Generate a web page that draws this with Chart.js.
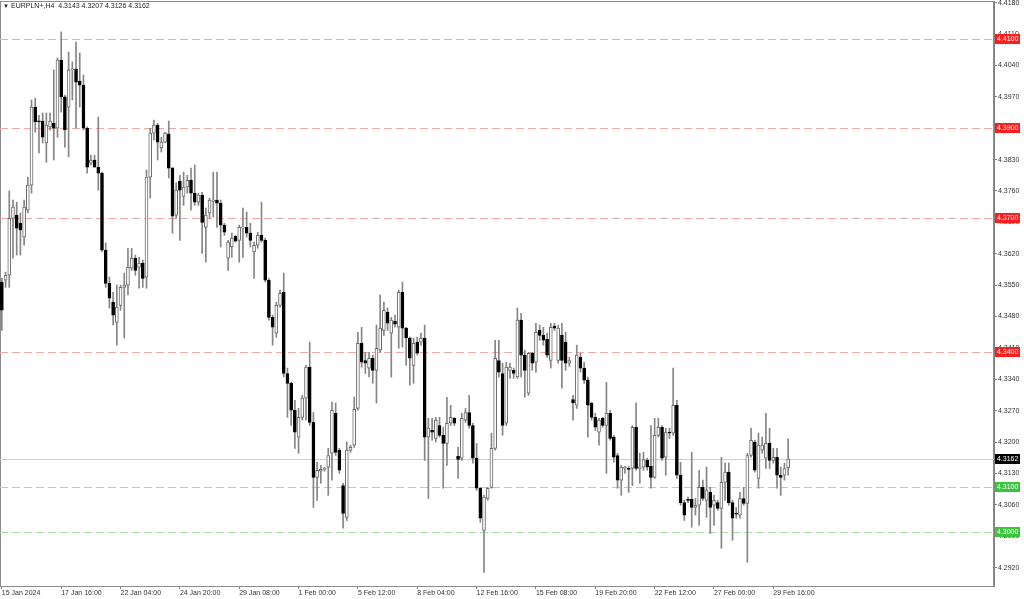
<!DOCTYPE html>
<html>
<head>
<meta charset="utf-8">
<script src="https://cdn.jsdelivr.net/npm/chart.js@4.4.1/dist/chart.umd.min.js"></script>
<style>
  html, body { margin: 0; padding: 0; background: #fff; }
  #wrap { position: relative; width: 1024px; height: 599px; }
</style>
</head>
<body>
<div id="wrap"><canvas id="chart"></canvas></div>
<script>
// EURPLN+ H4 candles (oldest first)
const opens = [
  4.3557,4.3561,4.3572,4.3699,4.3706,4.3688,4.3657,4.3717,4.3773,4.3947,
  4.3916,4.3916,4.3867,4.3903,4.3911,4.3900,4.4052,4.3970,4.3947,4.4030,
  4.4032,4.4005,4.3996,4.3900,4.3822,4.3829,4.3813,4.3800,4.3628,4.3554,
  4.3512,4.3467,4.3505,4.3545,4.3550,4.3588,4.3610,4.3590,4.3599,4.3568,
  4.3791,4.3889,4.3907,4.3856,4.3869,4.3887,4.3811,4.3706,4.3782,4.3748,
  4.3769,4.3784,4.3755,4.3735,4.3751,4.3679,4.3711,4.3737,4.3740,4.3733,
  4.3684,4.3610,4.3635,4.3659,4.3650,4.3677,4.3679,4.3666,4.3624,4.3639,
  4.3661,4.3650,4.3561,4.3478,4.3443,4.3505,4.3534,4.3353,4.3331,4.3271,
  4.3211,4.3255,4.3298,4.3367,4.3244,4.3121,4.3135,4.3139,4.3144,4.3175,
  4.3264,4.3182,4.3103,4.3032,4.3182,4.3193,4.3275,4.3420,4.3382,4.3365,
  4.3387,4.3360,4.3405,4.3449,4.3490,4.3443,4.3470,4.3456,4.3534,4.3454,
  4.3432,4.3371,4.3423,4.3423,4.3432,4.3211,4.3226,4.3208,4.3237,4.3215,
  4.3197,4.3242,4.3253,4.3168,4.3164,4.3249,4.3266,4.3237,4.3164,4.3097,
  4.3003,4.3074,4.3099,4.3186,4.3382,4.3353,4.3242,4.3360,4.3360,4.3345,
  4.3472,4.3394,4.3309,4.3398,4.3378,4.3449,4.3438,4.3429,4.3382,4.3458,
  4.3382,4.3438,4.3423,4.3376,4.3295,4.3282,4.3389,4.3365,4.3338,4.3287,
  4.3255,4.3222,4.3253,4.3237,4.3264,4.3211,4.3170,4.3115,4.3141,4.3141,
  4.3141,4.3233,4.3141,4.3144,4.3159,4.3146,4.3121,4.3215,4.3233,4.3166,
  4.3222,4.3220,4.3282,4.3126,4.3065,4.3072,4.3072,4.3054,4.3059,4.3099,
  4.3070,4.3088,4.3059,4.3065,4.3052,4.3110,4.3133,4.3065,4.3041,4.3037,
  4.3074,4.3063,4.3170,4.3200,4.3119,4.3182,4.3164,4.3197,4.3159,4.3166,
  4.3126,4.3126,4.3143
];
const highs = [
  4.3565,4.3579,4.3760,4.3740,4.3735,4.3711,4.3740,4.3791,4.3963,4.3967,
  4.3929,4.3934,4.3934,4.3934,4.4030,4.4057,4.4115,4.3974,4.4070,4.4048,
  4.4092,4.4068,4.4019,4.3903,4.3840,4.3840,4.3925,4.3802,4.3644,4.3568,
  4.3534,4.3550,4.3550,4.3577,4.3632,4.3632,4.3617,4.3612,4.3606,4.3807,
  4.3900,4.3918,4.3911,4.3880,4.3891,4.3916,4.3813,4.3778,4.3795,4.3802,
  4.3795,4.3811,4.3818,4.3755,4.3757,4.3722,4.3744,4.3802,4.3802,4.3740,
  4.3688,4.3650,4.3666,4.3661,4.3684,4.3722,4.3713,4.3688,4.3646,4.3668,
  4.3735,4.3655,4.3565,4.3483,4.3512,4.3539,4.3577,4.3365,4.3333,4.3293,
  4.3275,4.3304,4.3371,4.3423,4.3266,4.3155,4.3148,4.3144,4.3186,4.3289,
  4.3287,4.3186,4.3108,4.3200,4.3193,4.3300,4.3445,4.3456,4.3400,4.3400,
  4.3394,4.3461,4.3528,4.3512,4.3499,4.3478,4.3483,4.3539,4.3557,4.3456,
  4.3434,4.3432,4.3434,4.3443,4.3461,4.3253,4.3253,4.3255,4.3255,4.3233,
  4.3300,4.3282,4.3255,4.3188,4.3264,4.3275,4.3304,4.3242,4.3197,4.3099,
  4.3081,4.3099,4.3220,4.3427,4.3427,4.3376,4.3378,4.3376,4.3365,4.3499,
  4.3487,4.3405,4.3400,4.3400,4.3465,4.3461,4.3456,4.3443,4.3465,4.3465,
  4.3461,4.3465,4.3445,4.3389,4.3304,4.3416,4.3398,4.3378,4.3345,4.3289,
  4.3264,4.3253,4.3255,4.3333,4.3271,4.3215,4.3175,4.3148,4.3146,4.3146,
  4.3237,4.3287,4.3175,4.3177,4.3164,4.3237,4.3253,4.3253,4.3237,4.3231,
  4.3231,4.3365,4.3293,4.3155,4.3070,4.3077,4.3177,4.3074,4.3137,4.3115,
  4.3144,4.3099,4.3081,4.3070,4.3166,4.3153,4.3153,4.3070,4.3054,4.3088,
  4.3099,4.3175,4.3231,4.3204,4.3220,4.3211,4.3264,4.3231,4.3186,4.3186,
  4.3144,4.3153,4.3207
];
const lows = [
  4.3449,4.3545,4.3545,4.3610,4.3617,4.3617,4.3639,4.3711,4.3755,4.3891,
  4.3845,4.3867,4.3824,4.3896,4.3829,4.3880,4.3936,4.3858,4.3836,4.3963,
  4.3900,4.3947,4.3896,4.3800,4.3818,4.3813,4.3762,4.3624,4.3545,4.3499,
  4.3461,4.3416,4.3494,4.3432,4.3528,4.3583,4.3572,4.3543,4.3545,4.3543,
  4.3744,4.3874,4.3829,4.3847,4.3867,4.3789,4.3666,4.3699,4.3650,4.3728,
  4.3755,4.3717,4.3728,4.3728,4.3621,4.3601,4.3699,4.3702,4.3679,4.3635,
  4.3661,4.3583,4.3612,4.3646,4.3601,4.3612,4.3657,4.3635,4.3565,4.3632,
  4.3646,4.3557,4.3472,4.3416,4.3434,4.3501,4.3345,4.3255,4.3237,4.3186,
  4.3175,4.3249,4.3249,4.3237,4.3054,4.3070,4.3108,4.3135,4.3081,4.3115,
  4.3170,4.3130,4.3008,4.3025,4.3177,4.3188,4.3271,4.3367,4.3353,4.3345,
  4.3331,4.3287,4.3400,4.3438,4.3449,4.3345,4.3456,4.3409,4.3412,4.3371,
  4.3327,4.3331,4.3394,4.3416,4.3159,4.3074,4.3204,4.3200,4.3211,4.3097,
  4.3148,4.3237,4.3237,4.3119,4.3159,4.3244,4.3231,4.3153,4.3092,4.3021,
  4.2909,4.3070,4.3097,4.3182,4.3345,4.3215,4.3237,4.3342,4.3342,4.3342,
  4.3345,4.3300,4.3304,4.3360,4.3356,4.3427,4.3416,4.3389,4.3365,4.3449,
  4.3376,4.3320,4.3360,4.3369,4.3249,4.3275,4.3356,4.3331,4.3211,4.3249,
  4.3226,4.3193,4.3233,4.3130,4.3204,4.3155,4.3097,4.3081,4.3130,4.3088,
  4.3103,4.3137,4.3108,4.3137,4.3137,4.3097,4.3119,4.3211,4.3159,4.3126,
  4.3208,4.3215,4.3119,4.3059,4.3025,4.3065,4.3010,4.3037,4.3014,4.3070,
  4.3032,4.2996,4.3014,4.3048,4.2963,4.3070,4.3059,4.2981,4.3030,4.3030,
  4.3059,4.2932,4.3166,4.3133,4.3097,4.3175,4.3141,4.3141,4.3153,4.3097,
  4.3081,4.3115,4.3126
];
const closes = [
  4.3494,4.3572,4.3699,4.3724,4.3677,4.3673,4.3724,4.3773,4.3947,4.3914,
  4.3914,4.3880,4.3907,4.3916,4.3900,4.4052,4.3970,4.3896,4.4030,4.4032,
  4.4003,4.3996,4.3900,4.3813,4.3829,4.3813,4.3800,4.3628,4.3554,4.3521,
  4.3483,4.3501,4.3545,4.3550,4.3590,4.3610,4.3583,4.3599,4.3565,4.3791,
  4.3889,4.3907,4.3869,4.3869,4.3889,4.3811,4.3704,4.3762,4.3762,4.3769,
  4.3784,4.3755,4.3735,4.3751,4.3690,4.3706,4.3740,4.3740,4.3733,4.3684,
  4.3668,4.3646,4.3655,4.3648,4.3679,4.3679,4.3666,4.3650,4.3639,4.3661,
  4.3650,4.3561,4.3478,4.3456,4.3505,4.3532,4.3353,4.3331,4.3271,4.3222,
  4.3255,4.3298,4.3367,4.3244,4.3121,4.3137,4.3139,4.3141,4.3170,4.3271,
  4.3177,4.3137,4.3041,4.3182,4.3188,4.3273,4.3420,4.3378,4.3376,4.3387,
  4.3360,4.3409,4.3454,4.3494,4.3465,4.3472,4.3463,4.3534,4.3454,4.3432,
  4.3387,4.3420,4.3398,4.3432,4.3211,4.3231,4.3222,4.3249,4.3215,4.3197,
  4.3242,4.3255,4.3242,4.3161,4.3253,4.3266,4.3237,4.3164,4.3097,4.3030,
  4.3077,4.3097,4.3186,4.3387,4.3356,4.3237,4.3367,4.3367,4.3353,4.3472,
  4.3394,4.3360,4.3398,4.3376,4.3445,4.3438,4.3427,4.3394,4.3456,4.3454,
  4.3454,4.3382,4.3376,4.3382,4.3287,4.3394,4.3365,4.3338,4.3282,4.3255,
  4.3233,4.3249,4.3237,4.3264,4.3208,4.3166,4.3115,4.3144,4.3144,4.3139,
  4.3233,4.3141,4.3144,4.3161,4.3144,4.3121,4.3215,4.3233,4.3164,4.3222,
  4.3220,4.3282,4.3126,4.3065,4.3037,4.3070,4.3054,4.3059,4.3099,4.3074,
  4.3092,4.3054,4.3070,4.3052,4.3110,4.3133,4.3065,4.3030,4.3039,4.3074,
  4.3063,4.3170,4.3204,4.3137,4.3193,4.3193,4.3197,4.3159,4.3166,4.3126,
  4.3121,4.3141,4.3162
];

// axis labels
const xTickLabels = ['15 Jan 2024', '17 Jan 16:00', '22 Jan 04:00', '24 Jan 20:00', '29 Jan 08:00',
  '1 Feb 00:00', '5 Feb 12:00', '8 Feb 04:00', '12 Feb 16:00', '15 Feb 08:00', '19 Feb 20:00',
  '22 Feb 12:00', '27 Feb 00:00', '29 Feb 16:00'];
const xTickStep = 16; // bars between time labels
const yTickValues = [4.2920, 4.2990, 4.3060, 4.3130, 4.3200, 4.3270, 4.3340, 4.3410, 4.3480,
  4.3550, 4.3620, 4.3690, 4.3760, 4.3830, 4.3900, 4.3970, 4.4040, 4.4110, 4.4180];

// horizontal levels drawn on the chart
const levelPrices = [4.4100, 4.3900, 4.3700, 4.3400, 4.3100, 4.3000];
const levelLineColors = ['#f4a7a7', '#f4a7a7', '#f4a7a7', '#f4a7a7', '#b9cdb9', '#a4dea4'];
const levelBoxColors = ['#ff1e1e', '#ff1e1e', '#ff1e1e', '#ff1e1e', '#3cc43c', '#3cc43c'];

const symbolTitle = 'EURPLN+,H4';
const emptySlots = 55; // right-hand shift area of the terminal

const FONT = '"Liberation Sans", Arial, sans-serif';

const slots = [];
for (let i = 0; i < opens.length + emptySlots; i++) slots.push(i);

const isBull = closes.map((c, i) => c >= opens[i]);

const levelsPlugin = {
    id: 'levels',
    beforeDatasetsDraw(chart) {
        const {ctx, chartArea: a, scales: {y}} = chart;
        ctx.save();
        // frame
        ctx.strokeStyle = '#8c8c8c';
        ctx.lineWidth = 1;
        ctx.strokeRect(a.left + 0.5, a.top + 0.5, a.right - a.left - 1, a.bottom - a.top);
        // level lines
        ctx.setLineDash([8, 4]);
        levelPrices.forEach((p, i) => {
            const yy = Math.round(y.getPixelForValue(p)) + 0.5;
            ctx.strokeStyle = levelLineColors[i];
            ctx.beginPath();
            ctx.moveTo(a.left, yy);
            ctx.lineTo(a.right, yy);
            ctx.stroke();
        });
        // current price line
        ctx.setLineDash([]);
        const last = closes[closes.length - 1];
        const ly = Math.round(y.getPixelForValue(last)) + 0.5;
        ctx.strokeStyle = '#cfcfcf';
        ctx.beginPath();
        ctx.moveTo(a.left, ly);
        ctx.lineTo(a.right, ly);
        ctx.stroke();
        ctx.restore();
    },
    afterDraw(chart) {
        const {ctx, chartArea: a, scales: {y}} = chart;
        ctx.save();
        ctx.font = '7px ' + FONT;
        ctx.textBaseline = 'middle';
        ctx.textAlign = 'left';
        const box = (price, color) => {
            const yy = Math.round(y.getPixelForValue(price));
            ctx.fillStyle = color;
            ctx.fillRect(a.right + 1, yy - 5, 25, 10);
            ctx.fillStyle = '#fff';
            ctx.fillText(price.toFixed(4), a.right + 3, yy + 0.5);
        };
        levelPrices.forEach((p, i) => box(p, levelBoxColors[i]));
        box(closes[closes.length - 1], '#000');

        // title line
        const n = closes.length - 1;
        ctx.fillStyle = '#222';
        ctx.font = '6px ' + FONT;
        ctx.fillText('\u25BC', 3, 6);
        ctx.font = '7px ' + FONT;
        ctx.fillText(symbolTitle + '  ' + [opens[n], highs[n], lows[n], closes[n]].map(v => v.toFixed(4)).join(' '), 11, 6);
        ctx.restore();
    }
};

new Chart(document.getElementById('chart'), {
    type: 'bar',
    data: {
        labels: slots,
        datasets: [{
            // candle bodies
            data: opens.map((o, i) => [o, closes[i]]),
            backgroundColor: isBull.map(b => b ? '#ffffff' : '#000000'),
            borderColor: isBull.map(b => b ? '#6a6a6a' : '#000000'),
            borderWidth: 1,
            borderSkipped: false,
            barThickness: 3,
            minBarLength: 1,
            grouped: false,
            order: 0
        }, {
            // wicks
            data: lows.map((l, i) => [l, highs[i]]),
            backgroundColor: '#858585',
            borderWidth: 0,
            barThickness: 1,
            grouped: false,
            order: 1
        }]
    },
    options: {
        responsive: true,
        maintainAspectRatio: false,
        animation: false,
        layout: { padding: { top: 1, left: 0, right: 0, bottom: 0 } },
        plugins: {
            legend: { display: false },
            tooltip: { enabled: false }
        },
        scales: {
            x: {
                type: 'category',
                offset: true,
                grid: { offset: false, drawOnChartArea: false, drawTicks: true, tickLength: 3, color: '#808080' },
                border: { display: true, color: '#808080' },
                ticks: {
                    autoSkip: false,
                    maxRotation: 0,
                    align: 'start',
                    padding: 0,
                    color: '#333',
                    font: { family: FONT, size: 7 },
                    callback: function(value, index) {
                        if (index % xTickStep !== 0) return null;
                        const lbl = xTickLabels[index / xTickStep];
                        return lbl === undefined ? null : lbl;
                    }
                },
                afterFit: function(scale) {
                    scale.height = 13;
                    scale.paddingLeft = 0;
                    scale.paddingRight = 0;
                }
            },
            y: {
                position: 'right',
                min: 4.28789,
                max: 4.41838,
                grid: { drawOnChartArea: false, drawTicks: true, tickLength: 3, color: '#808080' },
                border: { display: true, color: '#808080' },
                afterBuildTicks: function(scale) {
                    scale.ticks = yTickValues.map(v => ({ value: v }));
                },
                ticks: {
                    autoSkip: false,
                    padding: 1,
                    color: '#333',
                    font: { family: FONT, size: 7 },
                    callback: v => Number(v).toFixed(4)
                },
                afterFit: function(scale) {
                    scale.width = 30;
                    scale.paddingTop = 0;
                    scale.paddingBottom = 0;
                }
            }
        }
    },
    plugins: [levelsPlugin]
});
</script>
</body>
</html>
